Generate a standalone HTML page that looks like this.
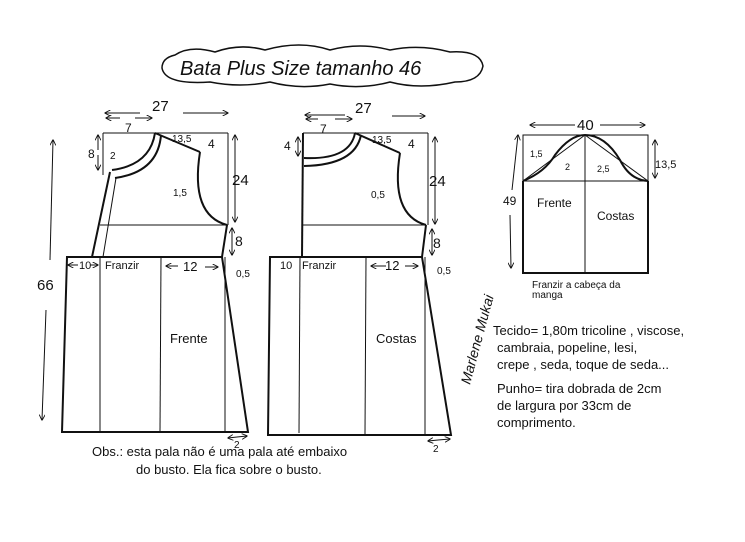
<!DOCTYPE html>
<html><head><meta charset="utf-8"><style>
html,body{margin:0;padding:0;background:#fff;width:745px;height:542px;overflow:hidden}
svg text{font-family:"Liberation Sans",sans-serif;fill:#111}
</style></head><body>
<svg width="745" height="542" viewBox="0 0 745 542" xmlns="http://www.w3.org/2000/svg" stroke="#111" fill="none" stroke-width="1">
<defs>
<marker id="a" viewBox="0 0 10 10" refX="9" refY="5" markerWidth="6" markerHeight="6" orient="auto"><path d="M0,0 L10,5 L0,10" fill="none" stroke="#111" stroke-width="1.5"/></marker>
</defs>
<!-- title cloud -->
<path d="M175,55 Q190,45 215,52 Q240,43 265,50 Q300,40 330,50 Q360,42 390,50 Q420,44 450,52 Q480,50 483,66 Q480,82 455,82 Q420,90 390,82 Q360,90 330,84 Q300,90 270,82 Q240,88 210,82 Q165,85 162,68 Q162,58 175,55Z" stroke-width="1.5"/>
<text x="180" y="75" font-size="20" stroke="none" font-style="italic">Bata  Plus Size  tamanho 46</text>

<!-- FRONT -->
<g stroke-width="1">
<line x1="103" y1="133" x2="228" y2="133"/>
<line x1="228" y1="133" x2="228" y2="225"/>
<line x1="103" y1="133" x2="103" y2="175"/>
<line x1="100" y1="225" x2="228" y2="225"/>
<line x1="100" y1="257" x2="100" y2="432"/>
<line x1="161" y1="257" x2="160" y2="432"/>
<line x1="225" y1="257" x2="225" y2="432"/>
<line x1="116" y1="178" x2="103" y2="257"/>
</g>
<g stroke-width="2">
<path d="M155,133 Q150,165 112,170"/>
<path d="M161,135 Q158,172 115,178"/>
<line x1="155" y1="133" x2="200" y2="152"/>
<path d="M200,152 Q190,215 227,225"/>
<line x1="227" y1="225" x2="222" y2="257"/>
<line x1="110" y1="172" x2="92" y2="257"/>
<path d="M67,257 L222,257 L248,432 L62,432 Z"/>
</g>

<!-- BACK -->
<g stroke-width="1">
<line x1="303" y1="133" x2="428" y2="133"/>
<line x1="428" y1="133" x2="428" y2="225"/>
<line x1="302" y1="225" x2="426" y2="225"/>
<line x1="300" y1="257" x2="299" y2="433"/>
<line x1="366" y1="257" x2="365" y2="434"/>
<line x1="425" y1="257" x2="425" y2="434"/>
</g>
<g stroke-width="2">
<line x1="303" y1="133" x2="302" y2="257"/>
<path d="M355,133 Q350,160 304,158"/>
<path d="M361,135 Q355,165 304,166"/>
<line x1="355" y1="133" x2="400" y2="153"/>
<path d="M400,153 Q390,215 426,225"/>
<line x1="426" y1="225" x2="422" y2="257"/>
<path d="M270,257 L422,257 L451,435 L268,435 Z"/>
</g>

<!-- SLEEVE -->
<g stroke-width="1">
<rect x="523" y="135" width="125" height="46"/>
<line x1="585" y1="135" x2="585" y2="273"/>
<line x1="523" y1="181" x2="585" y2="135"/>
<line x1="585" y1="135" x2="648" y2="181"/>
</g>
<g stroke-width="2">
<path d="M523,181 Q545,172 555,155 Q570,135 585,135 Q605,135 620,160 Q630,180 648,181"/>
<path d="M523,181 L523,273 L648,273 L648,181"/>
</g>

<!-- dimension arrows -->
<g stroke-width="1" marker-end="url(#a)">
<line x1="140" y1="113" x2="105" y2="113"/><line x1="183" y1="113" x2="228" y2="113"/>
<line x1="345" y1="115" x2="305" y2="115"/><line x1="392" y1="116" x2="425" y2="116"/>
<line x1="50" y1="260" x2="53" y2="140"/><line x1="46" y1="310" x2="42" y2="420"/>
<line x1="235" y1="180" x2="235" y2="135"/><line x1="235" y1="180" x2="235" y2="222"/>
<line x1="232" y1="240" x2="232" y2="228"/><line x1="232" y1="240" x2="232" y2="255"/>
<line x1="435" y1="180" x2="435" y2="137"/><line x1="435" y1="180" x2="435" y2="224"/>
<line x1="432" y1="240" x2="432" y2="229"/><line x1="432" y1="240" x2="432" y2="255"/>
<line x1="575" y1="125" x2="530" y2="125"/><line x1="600" y1="125" x2="645" y2="125"/>
<line x1="655" y1="158" x2="655" y2="140"/><line x1="655" y1="158" x2="655" y2="178"/>
<line x1="512" y1="190" x2="518" y2="135"/><line x1="510" y1="215" x2="511" y2="268"/>
<line x1="120" y1="118" x2="106" y2="118"/><line x1="135" y1="118" x2="152" y2="118"/>
<line x1="318" y1="119" x2="306" y2="119"/><line x1="335" y1="119" x2="352" y2="119"/>
<line x1="98" y1="150" x2="98" y2="135"/><line x1="98" y1="155" x2="98" y2="170"/>
<line x1="298" y1="146" x2="298" y2="137"/><line x1="298" y1="146" x2="298" y2="156"/>
<line x1="78" y1="265" x2="68" y2="265"/><line x1="90" y1="265" x2="98" y2="265"/>
<line x1="178" y1="266" x2="166" y2="266"/><line x1="205" y1="267" x2="218" y2="267"/>
<line x1="386" y1="266" x2="371" y2="266"/><line x1="405" y1="266" x2="418" y2="266"/>
<line x1="237" y1="437" x2="228" y2="438"/><line x1="237" y1="437" x2="247" y2="436"/>
<line x1="438" y1="440" x2="428" y2="441"/><line x1="438" y1="440" x2="450" y2="439"/>
</g>
<g stroke="none" font-size="12">
<text x="152" y="111" font-size="15">27</text>
<text x="355" y="113" font-size="15">27</text>
<text x="125" y="132">7</text><text x="320" y="133">7</text>
<text x="172" y="142" font-size="10">13,5</text><text x="372" y="143" font-size="10">13,5</text>
<text x="208" y="148">4</text><text x="408" y="148">4</text>
<text x="88" y="158">8</text><text x="284" y="150">4</text>
<text x="110" y="159" font-size="10">2</text>
<text x="173" y="196" font-size="10">1,5</text><text x="371" y="198" font-size="10">0,5</text>
<text x="232" y="185" font-size="15">24</text><text x="429" y="186" font-size="15">24</text>
<text x="235" y="246" font-size="14">8</text><text x="433" y="248" font-size="14">8</text>
<text x="37" y="290" font-size="15">66</text>
<text x="79" y="269" font-size="11">10</text><text x="105" y="269" font-size="11">Franzir</text>
<text x="280" y="269" font-size="11">10</text><text x="302" y="269" font-size="11">Franzir</text>
<text x="183" y="271" font-size="13">12</text><text x="385" y="270" font-size="13">12</text>
<text x="236" y="277" font-size="10">0,5</text><text x="437" y="274" font-size="10">0,5</text>
<text x="170" y="343" font-size="13">Frente</text><text x="376" y="343" font-size="13">Costas</text>
<text x="234" y="448" font-size="10">2</text><text x="433" y="452" font-size="10">2</text>
<text x="92" y="456" font-size="13">Obs.:  esta  pala  não   é uma  pala  até  embaixo</text>
<text x="136" y="474" font-size="13">do  busto.  Ela  fica  sobre  o  busto.</text>
<text x="577" y="130" font-size="15">40</text>
<text x="655" y="168" font-size="11">13,5</text>
<text x="503" y="205" font-size="12">49</text>
<text x="530" y="157" font-size="9">1,5</text><text x="565" y="170" font-size="9">2</text>
<text x="597" y="172" font-size="9">2,5</text>
<text x="537" y="207" font-size="12">Frente</text><text x="597" y="220" font-size="12">Costas</text>
<text x="532" y="288" font-size="10">Franzir a  cabeça da</text>
<text x="532" y="298" font-size="10">manga</text>
<text x="493" y="335" font-size="13">Tecido= 1,80m tricoline , viscose,</text>
<text x="497" y="352" font-size="13">cambraia, popeline, lesi,</text>
<text x="497" y="369" font-size="13">crepe , seda, toque de seda...</text>
<text x="497" y="393" font-size="13">Punho= tira dobrada de 2cm</text>
<text x="497" y="410" font-size="13">de largura  por 33cm  de</text>
<text x="497" y="427" font-size="13">comprimento.</text>
<text x="0" y="0" font-size="14" font-style="italic" transform="translate(470,385) rotate(-75)">Marlene Mukai</text>
</g>
</svg>
</body></html>
